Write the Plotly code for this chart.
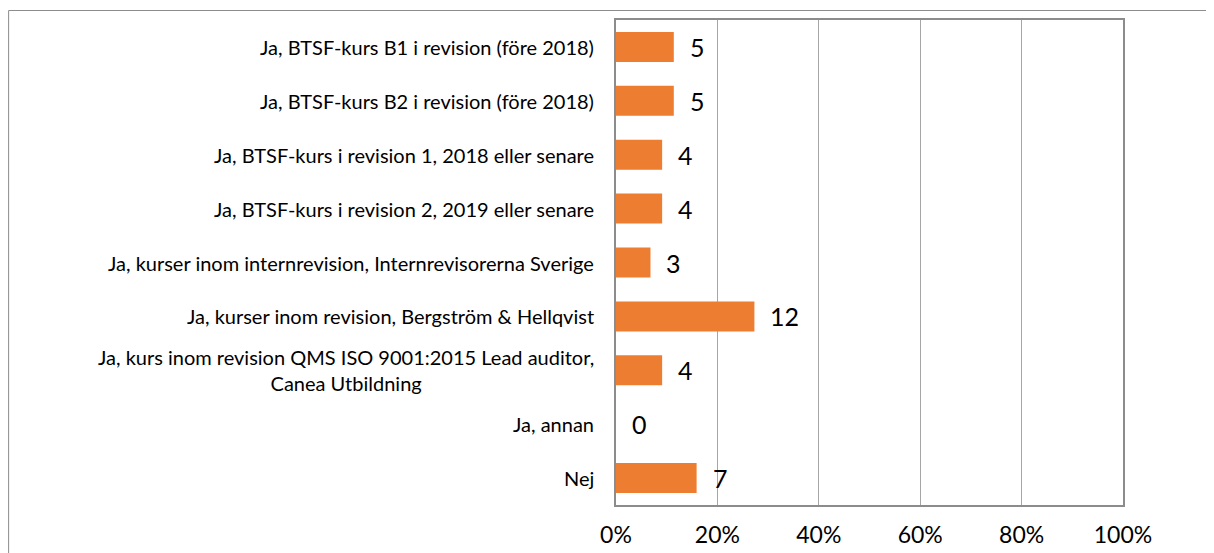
import plotly.graph_objects as go

# Survey answers, top to bottom as in the chart
categories = [
    "Ja, BTSF-kurs B1 i revision (före 2018)",
    "Ja, BTSF-kurs B2 i revision (före 2018)",
    "Ja, BTSF-kurs i revision 1, 2018 eller senare",
    "Ja, BTSF-kurs i revision 2, 2019 eller senare",
    "Ja, kurser inom internrevision, Internrevisorerna Sverige",
    "Ja, kurser inom revision, Bergström & Hellqvist",
    "Ja, kurs inom revision QMS ISO 9001:2015 Lead auditor,<br>Canea Utbildning",
    "Ja, annan",
    "Nej",
]
counts = [5, 5, 4, 4, 3, 12, 4, 0, 7]
shares = [11.4, 11.4, 9.1, 9.1, 6.8, 27.3, 9.1, 0.0, 15.9]
tick_vals = [0, 20, 40, 60, 80, 100]
tick_text = ["0%", "20%", "40%", "60%", "80%", "100%"]

FONT = "Lato"
BAR = "#ED7D31"
GRID = "#A6A6A6"
FRAME = "#8C8C8C"

fig = go.Figure()
fig.add_trace(go.Bar(
    x=shares, y=categories, orientation="h",
    marker=dict(color=BAR, line=dict(width=0)),
    hoverinfo="x+y",
))

# count labels next to each bar
for cat, val, n in zip(categories, shares, counts):
    fig.add_annotation(x=val, y=cat, text=str(n), showarrow=False,
                       xanchor="left", xshift=14,
                       font=dict(family=FONT, size=25, color="black"))

# category labels (centred lines like the original)
for cat in categories:
    fig.add_annotation(x=0, xref="paper", y=cat, text=cat, showarrow=False,
                       xanchor="right", xshift=-20, align="center",
                       font=dict(family=FONT, size=20, color="black"))

# outer chart frame (top and left edges visible)
fig.add_shape(type="line", xref="paper", yref="paper",
              x0=-1.198, x1=1.2, y0=1.0196, y1=1.0196,
              line=dict(color=FRAME, width=1))
fig.add_shape(type="line", xref="paper", yref="paper",
              x0=-1.198, x1=-1.198, y0=1.0196, y1=-0.2,
              line=dict(color=FRAME, width=1))

fig.update_layout(
    width=1206, height=545,
    margin=dict(l=608, r=91, t=12, b=48, autoexpand=False),
    paper_bgcolor="white", plot_bgcolor="white",
    showlegend=False, bargap=0.443,
    font=dict(family=FONT, color="black"),
)
fig.update_xaxes(range=[0, 100], tickvals=tick_vals, ticktext=tick_text,
                 showgrid=True, gridcolor=GRID, gridwidth=1,
                 showline=True, linecolor=FRAME, linewidth=2, mirror=True,
                 zeroline=False, ticks="", ticklabelstandoff=8,
                 automargin=False,
                 tickfont=dict(family=FONT, size=23, color="black"))
fig.update_yaxes(autorange="reversed", showticklabels=False,
                 showgrid=False, showline=True, linecolor=FRAME, linewidth=2,
                 mirror=True, ticks="", automargin=False)

fig.write_html("out.html")
